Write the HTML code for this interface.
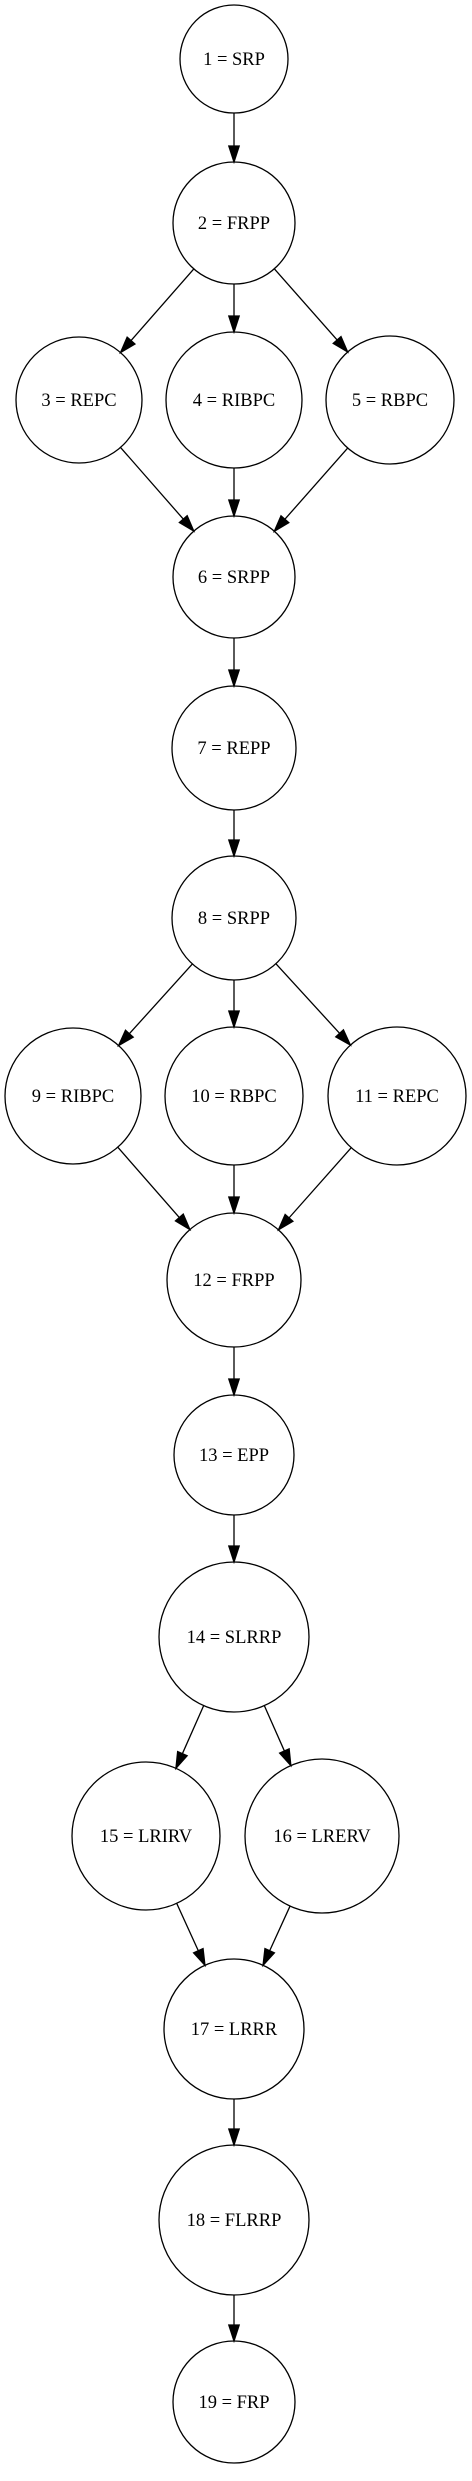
<!DOCTYPE html>
<html><head><meta charset="utf-8"><style>
html,body{margin:0;padding:0;background:#fff;}
svg{display:block;}
text{font-family:"Liberation Serif","Times New Roman",serif;font-size:18.5px;fill:#000;}
</style></head><body>
<svg id="g" width="472" height="2481" viewBox="0 0 472 2481" xmlns="http://www.w3.org/2000/svg"></svg>
<script>
var N={
1:[234,59,54,"1 = SRP"],
2:[234,223,61,"2 = FRPP"],
3:[79,400,63,"3 = REPC"],
4:[234,400,68,"4 = RIBPC"],
5:[390,400,64,"5 = RBPC"],
6:[234,577,61,"6 = SRPP"],
7:[234,748,62,"7 = REPP"],
8:[234,918,62,"8 = SRPP"],
9:[73,1096,68,"9 = RIBPC"],
10:[234,1096,69,"10 = RBPC"],
11:[397,1096,69,"11 = REPC"],
12:[234,1280,67,"12 = FRPP"],
13:[234,1455,60,"13 = EPP"],
14:[234,1637,75,"14 = SLRRP"],
15:[146,1836,74,"15 = LRIRV"],
16:[322,1836,77,"16 = LRERV"],
17:[234,2029,70,"17 = LRRR"],
18:[234,2220,75,"18 = FLRRP"],
19:[234,2402,61,"19 = FRP"]};
var E=[[1,2],[2,3],[2,4],[2,5],[3,6],[4,6],[5,6],[6,7],[7,8],[8,9],[8,10],[8,11],[9,12],[10,12],[11,12],[12,13],[13,14],[14,15],[14,16],[15,17],[16,17],[17,18],[18,19]];
var s="";
for(var k in N){var n=N[k];
s+='<circle cx="'+n[0]+'" cy="'+n[1]+'" r="'+n[2]+'" fill="none" stroke="#000" stroke-width="1.3"/>';
s+='<text x="'+n[0]+'" y="'+(n[1]+6)+'" text-anchor="middle">'+n[3]+'</text>';}
E.forEach(function(e){var a=N[e[0]],b=N[e[1]];
var dx=b[0]-a[0],dy=b[1]-a[1],L=Math.sqrt(dx*dx+dy*dy),ux=dx/L,uy=dy/L;
var x1=a[0]+ux*a[2],y1=a[1]+uy*a[2],x2=b[0]-ux*b[2],y2=b[1]-uy*b[2];
var hl=16,hw=5.2,bx=x2-ux*hl,by=y2-uy*hl,px=-uy,py=ux;
s+='<line x1="'+x1+'" y1="'+y1+'" x2="'+bx+'" y2="'+by+'" stroke="#000" stroke-width="1.3"/>';
s+='<polygon points="'+x2+','+y2+' '+(bx+px*hw)+','+(by+py*hw)+' '+(bx-px*hw)+','+(by-py*hw)+'" fill="#000" stroke="#000" stroke-width="1.3"/>';});
document.getElementById("g").innerHTML=s;
</script>
</body></html>
